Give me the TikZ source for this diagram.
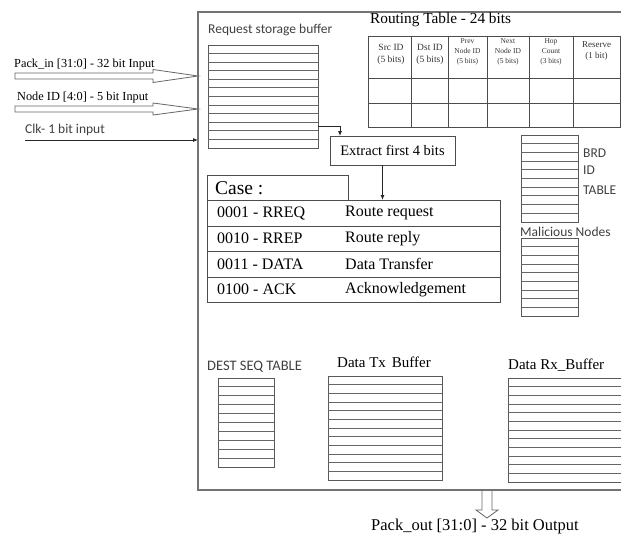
\documentclass[tikz,border=0pt]{standalone}
\usepackage{fontspec}
\setmainfont{Liberation Serif}
\newfontfamily\calib{Carlito}
\usetikzlibrary{calc,arrows.meta}
\newcommand{\fs}[1]{\fontsize{#1}{#1}\selectfont}
\newcommand{\fsb}[2]{\fontsize{#1}{#2}\selectfont}
\newcommand{\stackbuf}[6]{%
  \node[bufbox, minimum width=#4pt, minimum height=#5pt] (#1) at (#2,#3) {};
  \pgfmathtruncatemacro{\bufn}{#6-1}
  \foreach \k in {1,...,\bufn}{
    \draw[bufline] ($(#1.north west)!\k/#6!(#1.south west)$) -- ($(#1.north east)!\k/#6!(#1.south east)$);
  }
}
\begin{document}
\begin{tikzpicture}[x=1pt,y=-1pt,
  bufbox/.style={draw=black!65, line width=0.9pt, inner sep=0pt, outer sep=0pt, anchor=north west},
  bufline/.style={draw=black!60, line width=0.9pt},
  tab/.style={draw=black!70, line width=0.8pt},
  tabbox/.style={tab, inner sep=0pt, outer sep=0pt, anchor=north west},
  frm/.style={draw=black!55, line width=1.4pt, inner sep=0pt, outer sep=0pt, anchor=north west},
  lbl/.style={inner sep=0pt, anchor=west},
  sanslbl/.style={lbl, text=black!75, font=\calib\fs{13.5}},
  hollow/.style={draw=black!60, line width=0.8pt, fill=white},
  arr/.style={draw=black!85, line width=0.8pt, -{Latex[length=5pt,width=4pt]}},
  hdr/.style={align=center, inner sep=0pt, text=black!80}
]
\useasboundingbox (0,0) rectangle (621,538);
\clip (0,0) rectangle (621,538);

% main frame
\node[frm, minimum width=450pt, minimum height=478pt] (frame) at (198,12) {};

% inputs
\node[lbl, font=\fs{12.3}] (pinlbl) at (14,65) {Pack\_in [31:0] - 32 bit Input};
\coordinate (pinT) at (198,76);
\draw[hollow] (pinT) -- ++(-45,-6.5) -- ++(0,3.5) -- ++(-138,0) -- ++(0,6) -- ++(138,0) -- ++(0,3.5) -- cycle;
\node[lbl, font=\fs{12.3}] (nidlbl) at (17,98) {Node ID [4:0] - 5 bit Input};
\coordinate (nidT) at (198,109);
\draw[hollow] (nidT) -- ++(-45,-6) -- ++(0,3) -- ++(-138,0) -- ++(0,6) -- ++(138,0) -- ++(0,3) -- cycle;
\node[sanslbl] (clklbl) at (25,130) {Clk- 1 bit input};
\coordinate (clkS) at (25,140);
\coordinate (clkT) at (198,140);
\draw[arr] (clkS) -- (clkT);

% request storage buffer
\node[sanslbl] (rsblbl) at (208,30) {Request storage  buffer};
\stackbuf{rsb}{208}{45}{110}{103}{12}

% extract
\node[tabbox, line width=0.9pt, minimum width=125pt, minimum height=29pt] (ext) at (330,136) {};
\node[font=\fs{14.5}, inner sep=0pt] (exttxt) at (ext.center) {Extract first 4 bits};
\coordinate (rsbout) at (318,126);
\coordinate (extin) at (340,136);
\draw[arr] (rsbout) -| (extin);

% case table
\node[tabbox, minimum width=141pt, minimum height=25pt] (caselbl) at (207,175) {};
\node[lbl, font=\fs{19.5}] (casetxt) at (215,188) {Case :};
\node[tabbox, minimum width=293pt, minimum height=102pt] (case) at (207,200) {};
\draw[tab] (207,226) -- (500,226);
\draw[tab] (207,251) -- (500,251);
\draw[tab] (207,277) -- (500,277);
\draw[arr] ([xshift=-10pt]ext.south) -- ([xshift=-10pt]ext.south |- case.north);
\node[lbl, font=\fs{16}] (c1a) at (217,213) {0001 - RREQ};
\node[lbl, font=\fs{16}] (c1b) at (345,213) {Route request};
\node[lbl, font=\fs{16}] (c2a) at (217,238.5) {0010 - RREP};
\node[lbl, font=\fs{16}] (c2b) at (345,238.5) {Route reply};
\node[lbl, font=\fs{16}] (c3a) at (217,264) {0011 - DATA};
\node[lbl, font=\fs{16}] (c3b) at (345,264) {Data Transfer};
\node[lbl, font=\fs{16}] (c4a) at (217,289.5) {0100 - ACK};
\node[lbl, font=\fs{16}] (c4b) at (345,289.5) {Acknowledgement};

% routing table
\node[lbl, font=\fs{15.3}] (rttitle) at (370,20) {Routing Table - 24 bits};
\node[tabbox, minimum width=252pt, minimum height=91pt] (rt) at (368,36) {};
\foreach \xx in {411,448,487,529,573} \draw[tab] (\xx,36) -- (\xx,127);
\draw[tab] (368,78) -- (620,78);
\draw[tab] (368,103) -- (620,103);
\node[hdr, font=\fsb{9.5}{12}] (h1) at (391,54) {Src ID\\(5 bits)};
\node[hdr, font=\fsb{9.5}{12}] (h2) at (430,54) {Dst ID\\(5 bits)};
\node[hdr, font=\fsb{7.5}{10}] (h3) at (467.5,52) {Prev\\Node ID\\(5 bits)};
\node[hdr, font=\fsb{7.5}{10}] (h4) at (508,52) {Next\\Node ID\\(5 bits)};
\node[hdr, font=\fsb{7.5}{10}] (h5) at (551,52) {Hop\\Count\\(3 bits)};
\node[hdr, font=\fsb{9}{11}] (h6) at (596.5,51) {Reserve\\(1 bit)};

% BRD ID table
\stackbuf{brd}{521}{135}{57}{87}{10}
\node[sanslbl] (brd1) at (583,153) {BRD};
\node[sanslbl] (brd2) at (583,170) {ID};
\node[sanslbl] (brd3) at (583,190) {TABLE};

% malicious nodes
\node[sanslbl] (mallbl) at (520,232) {Malicious  Nodes};
\stackbuf{mal}{521}{238}{57}{78}{9}

% bottom buffers
\node[sanslbl, font=\calib\fs{14.5}] (dstlbl) at (207,367) {DEST SEQ TABLE};
\stackbuf{dst}{218}{378}{56}{89}{10}
\node[lbl, font=\fs{15}] (dtxlbl) at (337,362) {Data Tx\hspace{6pt}Buffer};
\stackbuf{dtx}{328}{376}{114}{104}{12}
\node[lbl, font=\fs{15}] (drxlbl) at (508,365) {Data Rx\_Buffer};
\stackbuf{drx}{508}{378}{140}{104}{12}

% output
\coordinate (poutS) at (487,490);
\draw[draw=black!60, line width=0.8pt] ($(poutS)+(-5,0)$) -- ++(0,20) -- ++(-6,0) -- ++(11,8) -- ++(11,-8) -- ++(-6,0) -- ++(0,-20);
\node[font=\fs{16.5}, inner sep=0pt] (outlbl) at (475,527) {Pack\_out [31:0] - 32 bit Output};
\end{tikzpicture}
\end{document}
